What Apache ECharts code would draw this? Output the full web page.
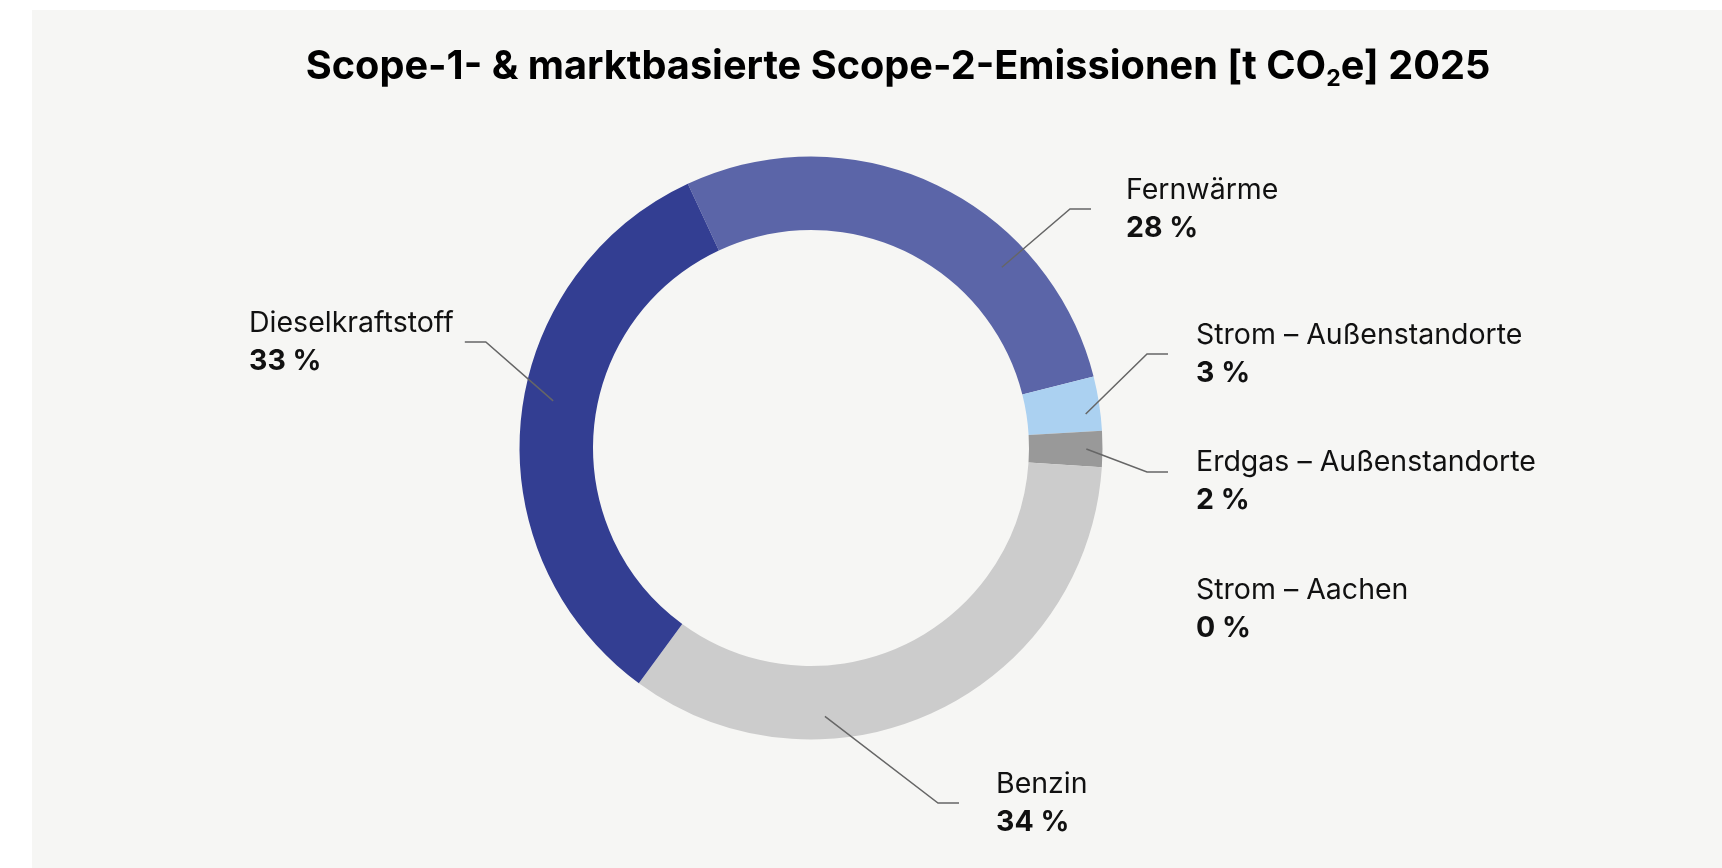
<!DOCTYPE html>
<html>
<head>
<meta charset="utf-8">
<script src="https://cdn.jsdelivr.net/npm/echarts@6/dist/echarts.min.js"></script>
<style>
	html, body { margin: 0; padding: 0; background: #fff; }
	#main { position: absolute; left: 32px; top: 10px; width: 1690px; height: 858px; }
</style>
</head>
<body>
<div id="main"></div>
<script>
	// Anteile in % (Reihenfolge im Uhrzeigersinn ab Fernwärme)
	var categories = ['Fernwärme', 'Strom – Außenstandorte', 'Erdgas – Außenstandorte', 'Strom – Aachen', 'Benzin', 'Dieselkraftstoff'];
	var shares = [28, 3, 2, 0, 34, 33];
	var sliceColors = ['#5b65a8', '#abd1f1', '#999999', '#e3e3e3', '#cccccc', '#333e92'];

	// wo die Beschriftungen stehen und wo die Linie die Scheibe trifft (t = Anteil im Winkel, s = Anteil im Ring)
	var labelPlaces = [
		{ x: 1094, y: 199, gap: 35, t: 0.71, s: 0.61 },
		{ x: 1164, y: 344, gap: 28, t: 0.66, s: 0.80 },
		{ x: 1164, y: 471, gap: 28, t: 0.50, s: 0.78, dy: -9 },
		{ x: 1164, y: 599 },
		{ x: 964, y: 793, gap: 37, t: 0.68, s: 0.69 },
		{ x: 217, y: 332, gap: 11, t: 0.54, s: 0.60, side: 'left' }
	];

	var CENTER = [779, 438];
	var RADIUS = [218, 291.5];

	var myChart = echarts.init(document.getElementById('main'));

	function sliceLayout(idx) {
		try {
			return myChart.getModel().getSeriesByIndex(1).getData().getItemLayout(idx);
		} catch (e) {
			return null;
		}
	}

	var ringData = categories.map(function (name, i) {
		return { name: name, value: shares[i], itemStyle: { color: sliceColors[i] } };
	});
	// zweite, unsichtbare Serie nur für Beschriftungen + Linien (liegt über dem Ring)
	var labelData = categories.map(function (name, i) {
		var item = { name: name, value: shares[i] };
		if (labelPlaces[i].t == null) item.labelLine = { show: false };
		return item;
	});

	myChart.setOption({
		backgroundColor: '#f6f6f4',
		animation: false,
		title: {
			text: 'Scope-1- & marktbasierte Scope-2-Emissionen [t CO{sub|2}e] 2025',
			left: 866,
			top: 33,
			textAlign: 'center',
			padding: 0,
			textStyle: {
				fontFamily: 'Inter',
				fontSize: 39.7,
				fontWeight: 'bold',
				color: '#000',
				lineHeight: 48,
				rich: {
					sub: { fontFamily: 'Inter', fontSize: 23, fontWeight: 'bold', color: '#000', verticalAlign: 'bottom', lineHeight: 14 }
				}
			}
		},
		series: [{
			type: 'pie',
			z: 2,
			center: CENTER,
			radius: RADIUS,
			startAngle: 115,
			clockwise: true,
			silent: true,
			label: { show: false },
			labelLine: { show: false },
			data: ringData
		}, {
			type: 'pie',
			z: 5,
			center: CENTER,
			radius: RADIUS,
			startAngle: 115,
			clockwise: true,
			avoidLabelOverlap: false,
			silent: true,
			itemStyle: { color: 'rgba(0,0,0,0)' },
			label: {
				show: true,
				position: 'outside',
				formatter: function (p) {
					return '{n|' + p.name + '}\n{p|' + Math.round(p.percent) + ' %}';
				},
				rich: {
					n: { fontFamily: 'Inter', fontSize: 28.5, color: '#111', lineHeight: 38 },
					p: { fontFamily: 'Inter', fontSize: 28.5, fontWeight: 'bold', color: '#111', lineHeight: 38 }
				}
			},
			labelLine: {
				show: true,
				length: 20,
				length2: 21,
				lineStyle: { color: '#666', width: 1.5 }
			},
			labelLayout: function (p) {
				var c = labelPlaces[p.dataIndex];
				var res = { x: c.x, y: c.y, align: 'left', verticalAlign: 'middle' };
				if (c.t == null) return res;
				var lay = sliceLayout(p.dataIndex);
				if (!lay) return res;
				var a = lay.startAngle + c.t * (lay.endAngle - lay.startAngle);
				var rr = lay.r0 + c.s * (lay.r - lay.r0);
				var p0 = [lay.cx + rr * Math.cos(a), lay.cy + rr * Math.sin(a)];
				var ly = c.y + (c.dy || 0);
				var endX = c.side === 'left' ? c.x + p.labelRect.width + c.gap : c.x - c.gap;
				var elbowX = c.side === 'left' ? endX + 21 : endX - 21;
				res.labelLinePoints = [p0, [elbowX, ly], [endX, ly]];
				return res;
			},
			data: labelData
		}]
	});
</script>
</body>
</html>
